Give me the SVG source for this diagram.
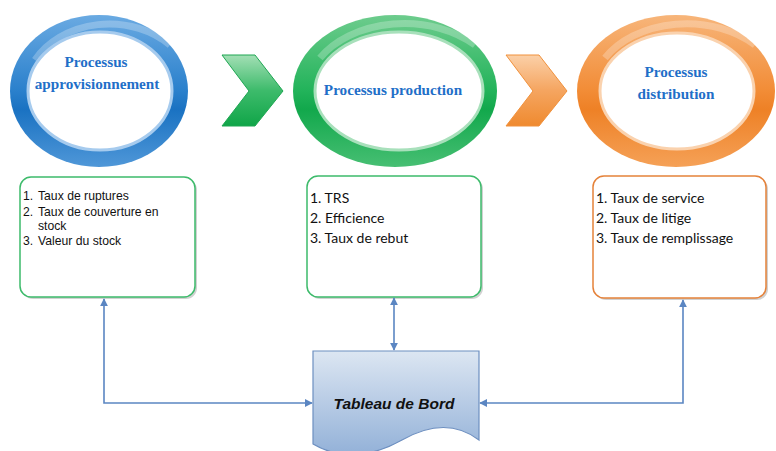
<svg xmlns="http://www.w3.org/2000/svg" width="776" height="451" viewBox="0 0 776 451">
<defs>
<style>
.title{font-family:"Liberation Serif",serif;font-weight:bold;font-size:15.2px;fill:#1f6fc8;text-anchor:middle}
.lst1{font-family:"Liberation Sans",Arial,sans-serif;font-size:12.2px;fill:#111}
.lst2{font-family:Lato,"Open Sans",sans-serif;font-size:14px;fill:#111}
.box{fill:#fff;stroke-width:1.5}
.shadow{fill:#000;opacity:0.18}
.conn{fill:none;stroke:#5b86c2;stroke-width:1.6}
.inner{fill:#fff;stroke-width:3}
.gloss{fill:none;stroke:#fff;stroke-opacity:0.25;stroke-width:7}
</style>
<linearGradient id="gBlue" x1="0" y1="0" x2="0" y2="1">
<stop offset="0" stop-color="#6aaae2"/><stop offset="0.5" stop-color="#2a80cc"/><stop offset="0.62" stop-color="#1a72c2"/><stop offset="1" stop-color="#4f97d8"/>
</linearGradient>
<linearGradient id="gGreen" x1="0" y1="0" x2="0" y2="1">
<stop offset="0" stop-color="#6dcc8d"/><stop offset="0.5" stop-color="#22b35a"/><stop offset="0.62" stop-color="#12a84c"/><stop offset="1" stop-color="#47bf73"/>
</linearGradient>
<linearGradient id="gOrange" x1="0" y1="0" x2="0" y2="1">
<stop offset="0" stop-color="#f7b57a"/><stop offset="0.5" stop-color="#f28c36"/><stop offset="0.62" stop-color="#ee8126"/><stop offset="1" stop-color="#f5a157"/>
</linearGradient>
<linearGradient id="gChevG" x1="0" y1="0" x2="0" y2="1">
<stop offset="0" stop-color="#a3dfb5"/><stop offset="0.5" stop-color="#3dbb6b"/><stop offset="1" stop-color="#10a548"/>
</linearGradient>
<linearGradient id="gChevO" x1="0" y1="0" x2="0" y2="1">
<stop offset="0" stop-color="#fbd0a8"/><stop offset="0.5" stop-color="#f5a560"/><stop offset="1" stop-color="#ef8a2f"/>
</linearGradient>
<linearGradient id="gDoc" x1="0" y1="0" x2="0" y2="1">
<stop offset="0" stop-color="#dce6f2"/><stop offset="1" stop-color="#93b1d8"/>
</linearGradient>
<marker id="arr" viewBox="0 0 10 10" refX="9" refY="5" markerWidth="8" markerHeight="8" orient="auto-start-reverse" markerUnits="userSpaceOnUse">
<path d="M0,0 L10,5 L0,10 Z" fill="#5b86c2"/>
</marker>
</defs>
<rect width="776" height="451" fill="#fff"/>

<g id="ring-appro">
<ellipse cx="99" cy="91" rx="89" ry="76" fill="url(#gBlue)"/>
<path d="M35,60 A85,70 0 0 1 170,45" class="gloss"/>
<ellipse cx="100" cy="91" rx="72" ry="59" class="inner" stroke="#a6cbee"/>
<text class="title" x="96" y="67">Processus</text>
<text class="title" x="97" y="89">approvisionnement</text>
</g>

<g id="chevron-1">
<path d="M222,55 H255 L283,91 L255,126 H222 L249,91 Z" fill="url(#gChevG)" stroke="#1fa653" stroke-width="1"/>
</g>

<g id="ring-production">
<ellipse cx="395" cy="91" rx="102" ry="76" fill="url(#gGreen)"/>
<path d="M320,58 A98,70 0 0 1 475,45" class="gloss"/>
<ellipse cx="399" cy="91" rx="84" ry="59" class="inner" stroke="#a8e0bb"/>
<text class="title" x="393" y="95">Processus production</text>
</g>

<g id="chevron-2">
<path d="M506,55 H539 L567,91 L539,126 H506 L533,91 Z" fill="url(#gChevO)" stroke="#f0913c" stroke-width="1"/>
</g>

<g id="ring-distribution">
<ellipse cx="676" cy="91" rx="99" ry="76" fill="url(#gOrange)"/>
<path d="M605,58 A95,70 0 0 1 755,45" class="gloss"/>
<ellipse cx="677" cy="91" rx="77" ry="58" class="inner" stroke="#fad2ae"/>
<text class="title" x="676" y="77">Processus</text>
<text class="title" x="676" y="99">distribution</text>
</g>

<g id="box-appro">
<rect x="22" y="179" width="175" height="120" rx="11" class="shadow"/>
<rect x="20" y="177" width="175" height="120" rx="11" class="box" stroke="#3dbb6b"/>
<text class="lst1" x="23" y="200">1.</text><text class="lst1" x="38" y="200">Taux de ruptures</text>
<text class="lst1" x="23" y="216">2.</text><text class="lst1" x="38" y="216">Taux de couverture en</text>
<text class="lst1" x="38" y="230">stock</text>
<text class="lst1" x="23" y="245">3.</text><text class="lst1" x="38" y="245">Valeur du stock</text>
</g>

<g id="box-production">
<rect x="309" y="178" width="174" height="121" rx="11" class="shadow"/>
<rect x="307" y="176" width="174" height="121" rx="11" class="box" stroke="#3dbb6b"/>
<text class="lst2" x="310" y="203">1. TRS</text>
<text class="lst2" x="310" y="223">2. Efficience</text>
<text class="lst2" x="310" y="243">3. Taux de rebut</text>
</g>

<g id="box-distribution">
<rect x="595" y="178" width="173" height="122" rx="11" class="shadow"/>
<rect x="593" y="176" width="173" height="122" rx="11" class="box" stroke="#e5823a"/>
<text class="lst2" x="596" y="203">1. Taux de service</text>
<text class="lst2" x="596" y="223">2. Taux de litige</text>
<text class="lst2" x="596" y="243">3. Taux de remplissage</text>
</g>

<g id="tableau-de-bord">
<path d="M313,351 H479 V440 C458,424 432,423 402,440 C372,457 340,460 313,444 Z" fill="url(#gDoc)" stroke="#6d8fc0" stroke-width="1.2"/>
<text x="394" y="409" font-family="'Liberation Sans',Arial,sans-serif" font-size="15.5px" font-weight="bold" font-style="italic" fill="#111" text-anchor="middle">Tableau de Bord</text>
</g>

<g id="connectors">
<path class="conn" d="M104,299 V403 H312" marker-start="url(#arr)" marker-end="url(#arr)"/>
<path class="conn" d="M394,298 V350" marker-start="url(#arr)" marker-end="url(#arr)"/>
<path class="conn" d="M683,300 V403 H480" marker-start="url(#arr)" marker-end="url(#arr)"/>
</g>
</svg>
